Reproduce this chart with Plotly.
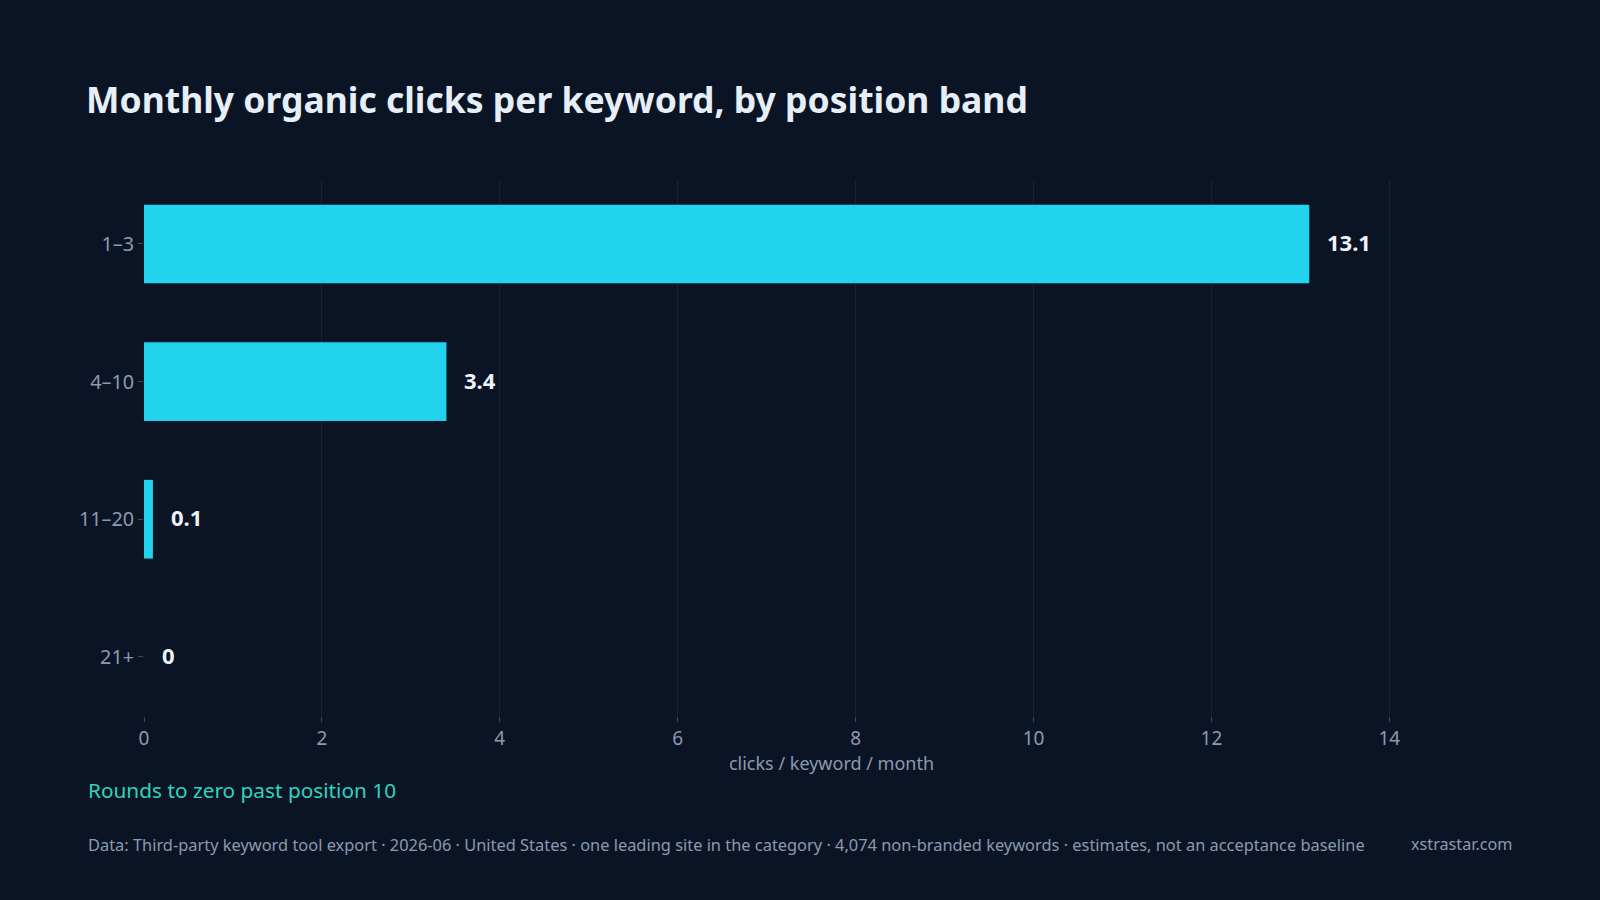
import plotly.graph_objects as go

# position bands and monthly organic clicks per keyword
bands = ["1–3", "4–10", "11–20", "21+"]
clicks = [13.1, 3.4, 0.1, 0]
x_ticks = [0, 2, 4, 6, 8, 10, 12, 14]

title_text = "Monthly organic clicks per keyword, by position band"
subtitle_text = "Rounds to zero past position 10"
source_text = ("Data: Third-party keyword tool export · 2026-06 · United States · one leading site "
               "in the category · 4,074 non-branded keywords · estimates, not an acceptance baseline")
brand_text = "xstrastar.com"

BG = "#0b1424"
BAR = "#22d3ee"
MUTED = "#8b9ab3"
GRID = "#172235"
TICK = "#3a4961"
FONT = "Noto Sans"

W, H = 1600, 900
ml, mr, mt, mb = 144, 81, 180, 184
pw = W - ml - mr


def px_x(px):
    # paper x from a pixel column
    return (px - ml) / pw


def px_y(py):
    return (H - mb - py) / (H - mt - mb)


bars = go.Bar(
    x=clicks, y=bands, orientation="h",
    marker=dict(color=BAR, line=dict(width=0)),
    hoverinfo="x+y", showlegend=False,
)

fig = go.Figure(data=[bars])

annotations = [
    dict(x=v, y=b, xref="x", yref="y", text=f"<b>{v:g}</b>", showarrow=False,
         xanchor="left", yanchor="middle", xshift=16, yshift=2,
         font=dict(family=FONT, size=22, color="#eef3fa"))
    for b, v in zip(bands, clicks)
]
annotations += [
    dict(x=px_x(86), y=px_y(790), xref="paper", yref="paper", text=subtitle_text,
         showarrow=False, xanchor="left", yanchor="middle",
         font=dict(family=FONT, size=20.8, color="#2dd4bf")),
    dict(x=px_x(86), y=px_y(844), xref="paper", yref="paper", text=source_text,
         showarrow=False, xanchor="left", yanchor="middle",
         font=dict(family=FONT, size=16.4, color=MUTED)),
    dict(x=px_x(1514), y=px_y(844), xref="paper", yref="paper", text=brand_text,
         showarrow=False, xanchor="right", yanchor="middle",
         font=dict(family=FONT, size=16.2, color=MUTED)),
]

fig.update_layout(
    width=W, height=H,
    paper_bgcolor=BG, plot_bgcolor=BG,
    margin=dict(l=ml, r=mr, t=mt, b=mb),
    bargap=0.428,
    font=dict(family=FONT, color=MUTED),
    title=dict(text=f"<b>{title_text}</b>", xref="container", yref="container",
               x=86 / W, xanchor="left", y=1 - 101 / H, yanchor="middle",
               font=dict(family=FONT, size=35.5, color="#e6eef8")),
    xaxis=dict(range=[0, max(clicks) * 1.18], tickvals=x_ticks,
               showgrid=True, gridcolor=GRID, gridwidth=1, zeroline=False, showline=False,
               ticks="outside", ticklen=5, tickcolor=TICK,
               tickfont=dict(family=FONT, size=19, color=MUTED),
               title=dict(text="clicks / keyword / month", standoff=4,
                          font=dict(family=FONT, size=18, color=MUTED))),
    yaxis=dict(categoryorder="array", categoryarray=bands, range=[3.43, -0.465],
               showgrid=False, zeroline=False, showline=False,
               ticks="outside", ticklen=5, tickcolor=TICK,
               tickfont=dict(family=FONT, size=19.8, color=MUTED)),
    annotations=annotations,
)

fig.write_html(
    "out.html",
    config={"displayModeBar": False},
    post_script="document.body.style.margin='0';document.body.style.background='" + BG + "';",
)
